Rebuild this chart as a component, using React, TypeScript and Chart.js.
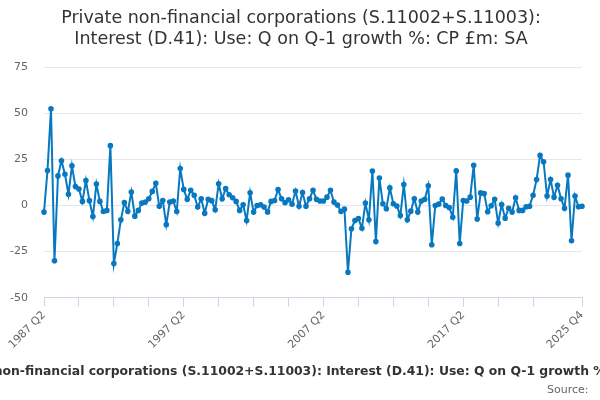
import { useEffect, useRef } from "react";
import { Chart, registerables } from "chart.js";

Chart.register(...registerables);

const FIRST_YEAR = 1987;
const FIRST_QUARTER = 2;

// Q on Q-1 growth %, 1987 Q2 .. 2025 Q4
const VALUES = [
  -3.6, 18.9, 52.4, -30, 16, 24.2, 16.9, 6, 21.5, 10.2,
  8.9, 2.2, 13.5, 2.6, -6, 11.6, 2.2, -3.3, -2.7, 32.4,
  -31.5, -20.6, -7.8, 1.5, -3.2, 7.3, -5.8, -2.7, 1.3, 1.8,
  3.6, 7.6, 12, -0.5, 2.7, -10.4, 1.8, 2.4, -3.3, 20,
  8.7, 3.3, 8.2, 5.5, -0.9, 3.6, -4.2, 3.3, 2.6, -2.3,
  11.7, 3.6, 9.1, 5.8, 4.2, 2.2, -2.7, 0.4, -8.2, 6.9,
  -3.6, 0, 0.4, -0.9, -3.5, 2.2, 2.7, 8.6, 3.6, 1.5,
  3.1, 0.7, 7.8, -0.5, 7, -0.5, 3.6, 8.2, 3.3, 2.4,
  2.4, 4.5, 8.2, 1.8, 0.2, -3.3, -2, -36.2, -12.6, -8.2,
  -7.1, -12.4, 1.3, -7.8, 18.6, -19.6, 14.9, 0.9, -1.8, 9.5,
  0.9, -0.3, -5.5, 11.3, -7.8, -3.1, 3.6, -3.6, 2.4, 3.3,
  10.7, -21.3, 0, 0.7, 3.5, 0, -1.1, -6.4, 18.7, -20.6,
  2.7, 2.4, 4.5, 21.8, -7.4, 6.8, 6.4, -3.4, -0.2, 3.3,
  -9.6, 0.5, -6.9, -1.5, -3.6, 4.2, -2.7, -2.7, -0.7, -0.4,
  5.5, 14, 27.1, 23.7, 5.1, 14, 4.5, 10.9, 3.6, -1.5,
  16.4, -19.1, 5.1, -0.7, -0.4,
];

const QUARTERS = VALUES.map((_, i) => {
  const q = FIRST_QUARTER - 1 + i;
  return `${FIRST_YEAR + Math.floor(q / 4)} Q${(q % 4) + 1}`;
});

const LABELLED_TICKS = ["1987 Q2", "1997 Q2", "2007 Q2", "2017 Q2", "2025 Q4"];
const MINOR_TICK_STEP = 10;
const Y_TICKS = [-50, -25, 0, 25, 50, 75];

const TITLE = [
  "Private non-financial corporations (S.11002+S.11003):",
  "Interest (D.41): Use: Q on Q-1 growth %: CP £m: SA",
];
const AXIS_TITLE =
  "Private non-financial corporations (S.11002+S.11003): Interest (D.41): Use: Q on Q-1 growth %: CP £m: SA";

const FONT = "'DejaVu Sans', sans-serif";
const LINE_COLOR = "#0878c0";

// x axis title is wider than the canvas, so draw it without squeezing
const axisTitlePlugin = {
  id: "axisTitle",
  afterDraw(chart: Chart) {
    const { ctx, chartArea, scales } = chart;
    ctx.save();
    ctx.font = `bold 12.4px ${FONT}`;
    ctx.fillStyle = "#333333";
    ctx.textAlign = "center";
    ctx.textBaseline = "middle";
    ctx.fillText(AXIS_TITLE, (chartArea.left + chartArea.right) / 2, scales.x.bottom + 18);
    ctx.restore();
  },
};

export default function App() {
  const canvasRef = useRef<HTMLCanvasElement>(null);

  useEffect(() => {
    if (!canvasRef.current) return;

    // minor ticks every 10 quarters, plus the last quarter
    const tickIndices = QUARTERS.map((_, i) => i).filter((i) => i % MINOR_TICK_STEP === 0 && i < QUARTERS.length - 10);
    tickIndices.push(QUARTERS.length - 1);

    const chart = new Chart(canvasRef.current, {
      type: "line",
      data: {
        labels: QUARTERS,
        datasets: [
          {
            data: VALUES,
            borderColor: LINE_COLOR,
            backgroundColor: LINE_COLOR,
            borderWidth: 2,
            pointRadius: 1.8,
            pointHoverRadius: 1.8,
            tension: 0,
          },
        ],
      },
      options: {
        animation: false,
        responsive: true,
        maintainAspectRatio: false,
        layout: { padding: { left: 10, right: 8, top: 0, bottom: 0 } },
        plugins: {
          legend: { display: false },
          tooltip: { enabled: false },
          title: {
            display: true,
            text: TITLE,
            color: "#333333",
            font: { family: FONT, size: 17.5, weight: "normal", lineHeight: 1.2 },
            padding: { top: 8, bottom: 17 },
          },
          subtitle: {
            display: true,
            text: "Source: ",
            position: "bottom",
            align: "end",
            color: "#666666",
            font: { family: FONT, size: 11, lineHeight: 1.2 },
            padding: { top: 30, bottom: 3.4 },
          },
        },
        scales: {
          x: {
            type: "category",
            offset: false,
            afterBuildTicks: (axis) => {
              axis.ticks = tickIndices.map((v) => ({ value: v }));
            },
            afterFit: (axis) => {
              axis.paddingLeft = 0;
              axis.paddingRight = 18;
            },
            grid: {
              drawOnChartArea: false,
              color: "#ccd6eb",
              tickColor: "#ccd6eb",
              tickLength: 9,
            },
            border: { color: "#ccd6eb" },
            ticks: {
              autoSkip: false,
              minRotation: 45,
              maxRotation: 45,
              padding: 2,
              color: "#666666",
              font: { family: FONT, size: 11 },
              callback: (value) => {
                const label = QUARTERS[value as number];
                return LABELLED_TICKS.includes(label) ? label : "";
              },
            },
          },
          y: {
            min: -50,
            max: 75,
            afterBuildTicks: (axis) => {
              axis.ticks = Y_TICKS.map((v) => ({ value: v }));
            },
            afterFit: (axis) => {
              axis.width = 34;
            },
            grid: { color: "#e6e6e6", drawTicks: false },
            border: { display: false },
            ticks: {
              padding: 16,
              color: "#666666",
              font: { family: FONT, size: 11 },
            },
          },
        },
      },
      plugins: [axisTitlePlugin],
    });

    return () => chart.destroy();
  }, []);

  return (
    <div style={{ position: "absolute", left: 0, top: 0, width: 600, height: 400 }}>
      <canvas ref={canvasRef} />
    </div>
  );
}
